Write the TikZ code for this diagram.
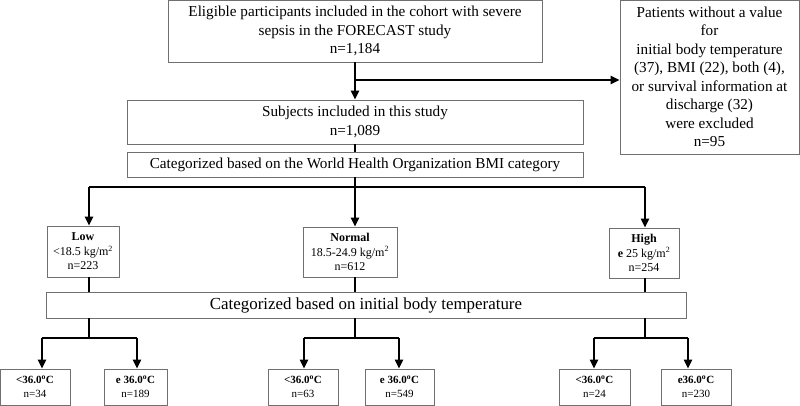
\documentclass[tikz,border=0pt]{standalone}
\usepackage{fontspec}
\setmainfont{Liberation Serif}
\usetikzlibrary{arrows.meta}
\definecolor{boxgray}{HTML}{707070}
\begin{document}
\begin{tikzpicture}[x=1pt,y=-1pt,
  box/.style={draw=boxgray, line width=0.9pt, inner sep=0pt, align=center, anchor=center},
  conn/.style={line width=2.2pt, black},
  arr/.style={conn, -{Triangle[length=9pt,width=8pt]}},
  big/.style={font=\fontsize{15.2}{18.5}\selectfont},
  mid/.style={font=\fontsize{15.2}{18.5}\selectfont},
  huge/.style={font=\fontsize{16.9}{18}\selectfont},
  small/.style={font=\fontsize{12}{14.5}\selectfont},
  tiny/.style={font=\fontsize{11}{14}\selectfont},
]
\fill[white] (0,0) rectangle (800,406);
\useasboundingbox (0,0) rectangle (800,406);

% top boxes
\node[box,big,minimum width=374pt,minimum height=62pt] (top) at (355,31)
  {Eligible participants included in the cohort with severe\\sepsis in the FORECAST study\\n=1,184};
\node[box,big,minimum width=179pt,minimum height=154pt] (excl) at (709.5,77)
  {Patients without a value\\for\\ initial body temperature\\(37), BMI (22), both (4),\\or survival information at\\discharge (32)\\were excluded\\n=95};
\node[box,big,minimum width=456pt,minimum height=44pt] (subj) at (355,122)
  {Subjects included in this study\\n=1,089};
\node[box,mid,minimum width=456pt,minimum height=25pt] (who) at (355,164.5)
  {Categorized based on the World Health Organization BMI category};

% BMI boxes
\node[box,small,minimum width=72pt,minimum height=51pt] (low) at (83,251.5)
  {\textbf{Low}\\<18.5 kg/m\textsuperscript{2}\\n=223};
\node[box,small,minimum width=94pt,minimum height=50pt] (normal) at (350,252)
  {\textbf{Normal}\\18.5-24.9 kg/m\textsuperscript{2}\\n=612};
\node[box,small,minimum width=70pt,minimum height=50pt] (high) at (644,253)
  {\textbf{High}\\\textbf{e} 25 kg/m\textsuperscript{2}\\n=254};

\node[box,huge,minimum width=640pt,minimum height=26pt] (temp) at (366,305)
  {Categorized based on initial body temperature};

% temperature boxes
\node[box,tiny,minimum width=70pt,minimum height=36pt] (b1) at (35,387)
  {\textbf{<36.0\textsuperscript{o}C}\\n=34};
\node[box,tiny,minimum width=63pt,minimum height=36pt] (b2) at (135.5,387)
  {\textbf{e 36.0\textsuperscript{o}C}\\n=189};
\node[box,tiny,minimum width=70pt,minimum height=36pt] (b3) at (303,387)
  {\textbf{<36.0\textsuperscript{o}C}\\n=63};
\node[box,tiny,minimum width=69pt,minimum height=36pt] (b4) at (399.5,387)
  {\textbf{e 36.0\textsuperscript{o}C}\\n=549};
\node[box,tiny,minimum width=71pt,minimum height=36pt] (b5) at (594.5,387)
  {\textbf{<36.0\textsuperscript{o}C}\\n=24};
\node[box,tiny,minimum width=70pt,minimum height=36pt] (b6) at (696,387)
  {\textbf{e36.0\textsuperscript{o}C}\\n=230};

% connectors top
\coordinate (j0) at (355,80);
\draw[arr] (top.south) -- (subj.north);
\draw[arr] (j0) -- (j0 -| excl.west);
\draw[conn] (subj.south) -- (who.north);

% BMI split
\coordinate (jB) at (355,187);
\coordinate (jL) at (89,187);
\coordinate (jH) at (645,187);
\draw[conn] (who.south) -- (jB);
\draw[conn] (jL) -- (jH);
\draw[arr] (jL) -- (jL |- low.north);
\draw[arr] (jB) -- (jB |- normal.north);
\draw[arr] (jH) -- (jH |- high.north);

% to temperature box
\draw[conn] (jL |- low.south) -- (jL |- temp.north);
\draw[conn] (jB |- normal.south) -- (jB |- temp.north);
\draw[conn] (jH |- high.south) -- (jH |- temp.north);

% temperature split
\coordinate (tL) at (89,338);
\coordinate (tL1) at (42,338);
\coordinate (tL2) at (137,338);
\coordinate (tM) at (355,338);
\coordinate (tM1) at (304,338);
\coordinate (tM2) at (399,338);
\coordinate (tR) at (645,338);
\coordinate (tR1) at (594,338);
\coordinate (tR2) at (688,338);

\draw[conn] (tL |- temp.south) -- (tL);
\draw[conn] (tM |- temp.south) -- (tM);
\draw[conn] (tR |- temp.south) -- (tR);
\draw[conn] (tL1) -- (tL2);
\draw[conn] (tM1) -- (tM2);
\draw[conn] (tR1) -- (tR2);
\draw[arr] (tL1) -- (tL1 |- b1.north);
\draw[arr] (tL2) -- (tL2 |- b2.north);
\draw[arr] (tM1) -- (tM1 |- b3.north);
\draw[arr] (tM2) -- (tM2 |- b4.north);
\draw[arr] (tR1) -- (tR1 |- b5.north);
\draw[arr] (tR2) -- (tR2 |- b6.north);
\end{tikzpicture}
\end{document}
